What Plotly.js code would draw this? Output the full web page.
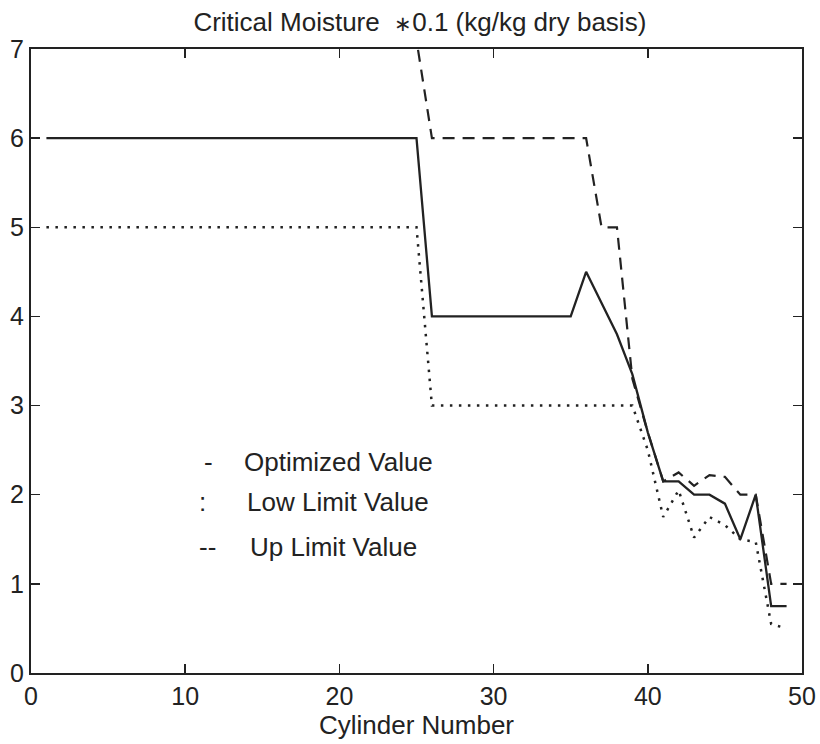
<!DOCTYPE html>
<html>
<head>
<meta charset="utf-8">
<script src="https://cdn.plot.ly/plotly-3.0.1.min.js"></script>
<style>
  html, body { margin: 0; padding: 0; background: #fff; }
  #chart { width: 820px; height: 744px; }
</style>
</head>
<body>
<div id="chart"></div>
<script>
// ---- data ----
const cylinders = [1,2,3,4,5,6,7,8,9,10,11,12,13,14,15,16,17,18,19,20,21,22,23,24,25,
                   26,27,28,29,30,31,32,33,34,35,36,37,38,39,40,41,42,43,44,45,46,47,48,49];

const optimizedValue = [6,6,6,6,6,6,6,6,6,6,6,6,6,6,6,6,6,6,6,6,6,6,6,6,6,
                        4,4,4,4,4,4,4,4,4,4,4.5,4.15,3.8,3.35,2.7,2.15,2.15,2.0,2.0,1.9,1.5,2.0,0.75,0.75];

const lowLimitValue = [5,5,5,5,5,5,5,5,5,5,5,5,5,5,5,5,5,5,5,5,5,5,5,5,5,
                       3,3,3,3,3,3,3,3,3,3,3,3,3,3,2.5,1.75,2.05,1.52,1.75,1.66,1.5,1.47,0.55,0.5];

// values for cylinders 1-25 lie at/just above the top of the axis (clipped in the picture)
const upLimitValue = [7.1,7.1,7.1,7.1,7.1,7.1,7.1,7.1,7.1,7.1,7.1,7.1,7.1,7.1,7.1,7.1,7.1,7.1,7.1,7.1,7.1,7.1,7.1,7.1,7.1,
                      6,6,6,6,6,6,6,6,6,6,6,5,5,3.3,2.7,2.15,2.25,2.1,2.22,2.2,2.0,2.0,1.0,1.0];

const xTicks = [0,10,20,30,40,50];
const yTicks = [0,1,2,3,4,5,6,7];

const legendMarks  = ['-', ':', '--'];
const legendLabels = ['Optimized Value', 'Low Limit Value', 'Up Limit Value'];

const titleText = 'Critical Moisture  <span style="font-size:21px">\u2217</span>0.1 (kg/kg dry basis)';
const xTitle = 'Cylinder Number';

// ---- styling ----
const ink = '#222';
const fontFam = 'Liberation Sans, Arial, sans-serif';

const traces = [
  { x: cylinders, y: upLimitValue, mode: 'lines', name: legendLabels[2],
    line: { color: ink, width: 2.2, dash: '12px,8px' } },
  { x: cylinders, y: lowLimitValue, mode: 'lines', name: legendLabels[1],
    line: { color: ink, width: 2.5, dash: '2.5px,6.5px' } },
  { x: cylinders, y: optimizedValue, mode: 'lines', name: legendLabels[0],
    line: { color: ink, width: 2.3 } }
];

// legend text positions (paper coords)
const markX = [0.230, 0.222, 0.229];
const labX  = [0.274, 0.278, 0.282];
const rowY  = [0.338, 0.274, 0.202];

const annotations = [];
for (let i = 0; i < legendLabels.length; i++) {
  annotations.push({ xref: 'paper', yref: 'paper', x: markX[i], y: rowY[i],
    text: legendMarks[i], showarrow: false, xanchor: 'center', yanchor: 'middle',
    font: { family: fontFam, size: 26, color: ink } });
  annotations.push({ xref: 'paper', yref: 'paper', x: labX[i], y: rowY[i],
    text: legendLabels[i], showarrow: false, xanchor: 'left', yanchor: 'middle',
    font: { family: fontFam, size: 26, color: ink } });
}

const axisCommon = {
  showgrid: false, zeroline: false, showline: true, linewidth: 2, linecolor: ink,
  mirror: 'ticks', ticks: 'inside', ticklen: 9, tickwidth: 1.5, tickcolor: ink,
  layer: 'above traces',
  tickfont: { family: fontFam, size: 25, color: ink }
};

const layout = {
  width: 820, height: 744,
  margin: { l: 31, r: 18, t: 49, b: 71 },
  paper_bgcolor: '#fff', plot_bgcolor: '#fff',
  showlegend: false,
  title: { text: titleText, x: 0.512, xanchor: 'center', y: 0.970, yanchor: 'middle', yref: 'container',
           font: { family: fontFam, size: 26, color: ink } },
  xaxis: Object.assign({}, axisCommon, {
    range: [0, 50], tickvals: xTicks, ticktext: xTicks.map(String),
    title: { text: xTitle, standoff: 2, font: { family: fontFam, size: 26, color: ink } }
  }),
  yaxis: Object.assign({}, axisCommon, {
    range: [0, 7], tickvals: yTicks, ticktext: yTicks.map(String)
  }),
  annotations: annotations
};

Plotly.newPlot('chart', traces, layout, { displayModeBar: false, staticPlot: true });
</script>
</body>
</html>
